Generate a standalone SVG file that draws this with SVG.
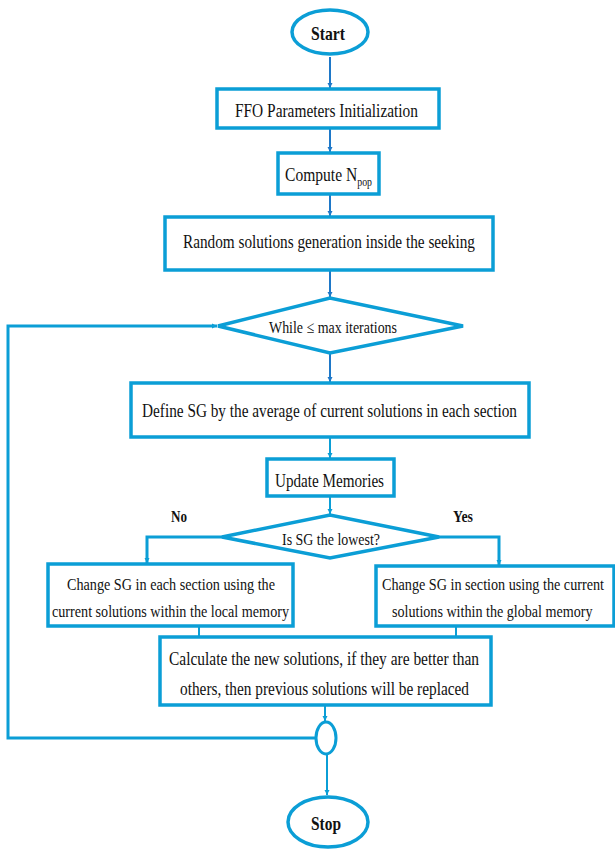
<svg xmlns="http://www.w3.org/2000/svg" width="615" height="849" viewBox="0 0 615 849">
<style>
.box{fill:#fff;stroke:#0b9ed6;stroke-width:3.5}
.t{font-family:'Liberation Serif','DejaVu Serif',serif;font-size:19px;fill:#111}
.s{font-size:17px}
.m{font-size:16px}
.b{font-weight:bold}
.arr{fill:none;stroke:#1e78c8;stroke-width:2}
.arr2{fill:none;stroke:#0b9ed6;stroke-width:2}
.br{fill:none;stroke:#0b9ed6;stroke-width:3}
</style>
<defs>
<marker id="ah" viewBox="0 0 10 10" refX="10" refY="5" markerWidth="5" markerHeight="6" orient="auto" markerUnits="userSpaceOnUse">
<path d="M0,0 L10,5 L0,10 z" fill="#1e78c8"/>
</marker>
<marker id="ah2" viewBox="0 0 10 10" refX="10" refY="5" markerWidth="5" markerHeight="6" orient="auto" markerUnits="userSpaceOnUse">
<path d="M0,0 L10,5 L0,10 z" fill="#0b9ed6"/>
</marker>
</defs>
<g id="connectors">
<path class="arr" d="M330,57 V88" marker-end="url(#ah)"/>
<path class="arr" d="M330,128 V152" marker-end="url(#ah)"/>
<path class="arr" d="M330,194 V216" marker-end="url(#ah)"/>
<path class="arr" d="M330,270 V297" marker-end="url(#ah)"/>
<path class="arr" d="M330,353 V382" marker-end="url(#ah)"/>
<path class="arr2" d="M330,437 V458" marker-end="url(#ah2)"/>
<path class="arr2" d="M330,496 V514" marker-end="url(#ah2)"/>
<path class="br" d="M222,537 H147 V563" marker-end="url(#ah2)"/>
<path class="br" d="M439,537 H499 V565" marker-end="url(#ah2)"/>
<path class="arr2" d="M199,626 V637"/>
<path class="arr2" d="M456,626 V637"/>
<path class="arr2" d="M325,705 V721" marker-end="url(#ah2)"/>
<path class="arr2" d="M327,754 V795" marker-end="url(#ah2)"/>
<path class="br" d="M316,738 H8 V326 H217" marker-end="url(#ah2)"/>
</g>
<g id="start">
<ellipse class="box" cx="330" cy="32" rx="38" ry="22"/>
<text class="t b" x="311" y="40" textLength="34" lengthAdjust="spacingAndGlyphs">Start</text>
</g>
<g id="init">
<rect class="box" x="217" y="89" width="222" height="39"/>
<text class="t" x="235" y="117" textLength="183" lengthAdjust="spacingAndGlyphs">FFO Parameters Initialization</text>
</g>
<g id="npop">
<rect class="box" x="278" y="153" width="101" height="41"/>
<text class="t" transform="translate(285,181) scale(0.82,1)" x="0" y="0">Compute N<tspan dy="5" style="font-size:12px">pop</tspan></text>
</g>
<g id="random">
<rect class="box" x="165" y="217" width="328" height="53"/>
<text class="t" x="183" y="248" textLength="292" lengthAdjust="spacingAndGlyphs">Random solutions generation inside the seeking</text>
</g>
<g id="while">
<polygon class="box" points="218,326 330,298 463,326 330,353"/>
<text class="t s" x="269" y="333" textLength="128" lengthAdjust="spacingAndGlyphs">While ≤ max iterations</text>
</g>
<g id="define">
<rect class="box" x="131" y="383" width="398" height="54"/>
<text class="t" x="142" y="417" textLength="375" lengthAdjust="spacingAndGlyphs">Define SG by the average of current solutions in each section</text>
</g>
<g id="update">
<rect class="box" x="267" y="459" width="127" height="37"/>
<text class="t" x="275" y="487" textLength="109" lengthAdjust="spacingAndGlyphs">Update Memories</text>
</g>
<g id="lowest">
<polygon class="box" points="222,537 330,515 439,537 330,558"/>
<text class="t s" x="282" y="545" textLength="98" lengthAdjust="spacingAndGlyphs">Is SG the lowest?</text>
</g>
<g id="labels">
<text class="t s b" x="171" y="522" textLength="16" lengthAdjust="spacingAndGlyphs">No</text>
<text class="t s b" x="453" y="522" textLength="20" lengthAdjust="spacingAndGlyphs">Yes</text>
</g>
<g id="local">
<rect class="box" x="48" y="564" width="245" height="62"/>
<text class="t m" x="67" y="590" textLength="208" lengthAdjust="spacingAndGlyphs">Change SG in each section using the</text>
<text class="t m" x="52" y="617" textLength="237" lengthAdjust="spacingAndGlyphs">current solutions within the local memory</text>
</g>
<g id="global">
<rect class="box" x="376" y="566" width="238" height="60"/>
<text class="t m" transform="translate(382,590) scale(0.888,1)" x="0" y="0" textLength="250" lengthAdjust="spacingAndGlyphs">Change SG in section using the current</text>
<text class="t m" transform="translate(392,617) scale(0.883,1)" x="0" y="0" textLength="227" lengthAdjust="spacingAndGlyphs">solutions within the global memory</text>
</g>
<g id="calc">
<rect class="box" x="160" y="637" width="331" height="68"/>
<text class="t" x="169" y="665" textLength="310" lengthAdjust="spacingAndGlyphs">Calculate the new solutions,  if they are better than</text>
<text class="t" x="180" y="695" textLength="289" lengthAdjust="spacingAndGlyphs">others, then previous solutions will be replaced</text>
</g>
<g id="junction">
<ellipse class="box" cx="326" cy="738" rx="10" ry="16" style="stroke-width:3"/>
</g>
<g id="stop">
<ellipse class="box" cx="328" cy="822" rx="40" ry="25"/>
<text class="t b" x="311" y="830" textLength="30" lengthAdjust="spacingAndGlyphs">Stop</text>
</g>
</svg>
